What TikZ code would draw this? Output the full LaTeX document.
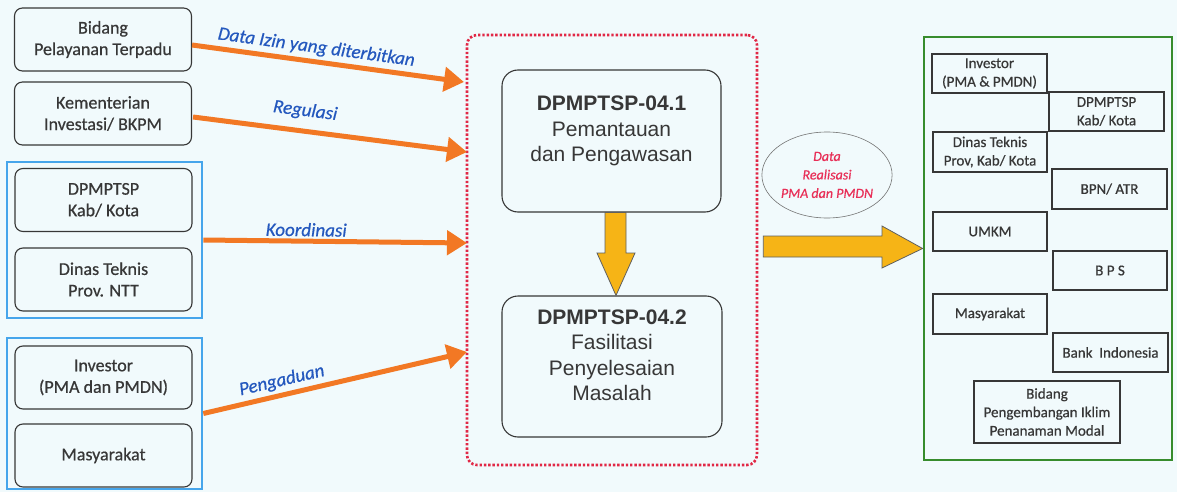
\documentclass[tikz,border=0pt]{standalone}
\usepackage{fontspec}
\setmainfont{Carlito}[FakeBold=0.6]
\newfontfamily\arialf{Liberation Sans}
\usetikzlibrary{arrows.meta,calc,shapes.geometric}
\definecolor{bg}{RGB}{241,250,252}
\definecolor{ink}{RGB}{55,55,55}
\definecolor{orng}{RGB}{242,120,36}
\definecolor{lblue}{RGB}{36,88,190}
\definecolor{skyb}{RGB}{70,165,235}
\definecolor{dred}{RGB}{225,40,70}
\definecolor{grn}{RGB}{55,140,45}
\definecolor{gold}{RGB}{246,180,22}
\definecolor{pinkt}{RGB}{232,48,88}
\begin{document}
\begin{tikzpicture}[x=1pt,y=-1pt,
 lbox/.style={draw=ink, line width=1.1pt, rounded corners=8pt, minimum width=177pt, minimum height=63pt, align=center, font=\fontsize{18}{21.5}\selectfont, text=ink, inner sep=0pt},
 bluebox/.style={draw=skyb, line width=2.6pt, minimum width=195pt, inner sep=0pt},
 cbox/.style={draw=ink, line width=1.1pt, rounded corners=16pt, minimum width=219pt, minimum height=142pt, inner sep=0pt},
 ctext/.style={align=center, font=\arialf\fontsize{21}{25.5}\selectfont, text=ink, inner sep=0pt},
 rbox/.style={draw=ink, line width=1.1pt, minimum width=115pt, minimum height=39pt, align=center, font=\fontsize{15}{18.5}\selectfont, text=ink, inner sep=0pt},
 flow/.style={draw=orng, line width=5pt, -{Triangle[length=20pt,width=24pt]}},
 flowlabel/.style={font=\itshape\fontsize{19}{22}\selectfont, text=lblue, sloped},
 blockarrow/.style={fill=gold, draw=ink!80, line width=0.8pt, line join=miter}
]
\fill[bg] (0,0) rectangle (1177,492);
\useasboundingbox (0,0) rectangle (1177,492);

% left column
\node[lbox] (b1) at (103,39.5) {Bidang\\Pelayanan Terpadu};
\node[lbox] (b2) at (103,113.5) {Kementerian\\Investasi/ BKPM};
\node[bluebox, minimum height=156pt] (blue1) at (104.5,240) {};
\node[lbox] (b3) at (103.5,200) {DPMPTSP\\Kab/ Kota};
\node[lbox] (b4) at (103.5,279.5) {Dinas Teknis\\Prov. NTT};
\node[bluebox, minimum height=151pt] (blue2) at (104.5,413.5) {};
\node[lbox] (b5) at (103.5,377.5) {Investor\\(PMA dan PMDN)};
\node[lbox] (b6) at (103.5,455.5) {Masyarakat};

% centre
\node[draw=dred, line width=2.6pt, dash pattern=on 2.4pt off 1.9pt, rounded corners=10pt, minimum width=290pt, minimum height=430pt, inner sep=0pt] (red) at (612,250) {};
\node[cbox] (c1) at (611.5,141) {};
\node[ctext] (c1t) at ($(c1.center)+(0,-10)$) {{\bfseries DPMPTSP-04.1}\\Pemantauan\\dan Pengawasan};
\node[cbox, minimum width=220pt, minimum height=141pt] (c2) at (612,366.5) {};
\node[ctext] (c2t) at ($(c2.center)+(0,-11)$) {{\bfseries DPMPTSP-04.2}\\Fasilitasi\\Penyelesaian\\Masalah};

% end points on red box
\coordinate (e1) at (464,82);
\coordinate (e2) at (467,152);
\coordinate (e3) at (467,243);
\coordinate (e4) at (467,352);

\draw[flow] ($(b1.east)+(0,5.5)$) -- (e1) node[flowlabel, pos=0.45, above=0pt] {Data Izin yang diterbitkan};
\draw[flow] ($(b2.east)+(1,3.5)$) -- (e2) node[flowlabel, pos=0.40, above=6pt] {Regulasi};
\draw[flow] (blue1.east) -- (e3) node[flowlabel, pos=0.39, above=-1pt] {Koordinasi};
\draw[flow] (blue2.east) -- (e4) node[flowlabel, pos=0.31, above=0pt] {Pengaduan};

% down block arrow
\draw[blockarrow] (c1.south -| 605,0) -- (c1.south -| 626,0) -- (626,253) -- (635,253) -- (c2.north -| 616,0) -- (597,253) -- (605,253) -- cycle;

% right side
\node[draw=grn, line width=2.8pt, minimum width=248pt, minimum height=423pt, inner sep=0pt] (green) at (1048,248.5) {};
\node[ellipse, draw=ink!70, line width=0.6pt, minimum width=116pt, minimum height=86pt, inner sep=0pt, align=center, font=\itshape\fontsize{14}{18.5}\selectfont, text=pinkt] (ell) at (827,175) {Data\\Realisasi\\PMA dan PMDN};
\draw[blockarrow] ($(red.east |- 0,236)+(5,0)$) -- (882,236) -- (882,226) -- (green.west) -- (882,268) -- (882,257) -- ($(red.east |- 0,257)+(5,0)$) -- cycle;

\node[rbox] (r1) at (989.5,73.5) {Investor\\(PMA \& PMDN)};
\node[rbox] (r2) at (1106.5,111.5) {DPMPTSP\\Kab/ Kota};
\node[rbox, minimum width=114pt, minimum height=40pt] (r3) at (990,152) {Dinas Teknis\\Prov, Kab/ Kota};
\node[rbox, minimum height=40pt] (r4) at (1109.5,189) {BPN/ ATR};
\node[rbox, minimum width=114pt] (r5) at (990,231.5) {UMKM};
\node[rbox, minimum width=114pt] (r6) at (1110,270.5) {B P S};
\node[rbox, minimum width=114pt, minimum height=40pt] (r7) at (990,314) {Masyarakat};
\node[rbox] (r8) at (1110.5,352.5) {Bank\ \ Indonesia};
\node[rbox, minimum width=146pt, minimum height=62pt] (r9) at (1047,412) {Bidang\\Pengembangan Iklim\\Penanaman Modal};
\end{tikzpicture}
\end{document}
